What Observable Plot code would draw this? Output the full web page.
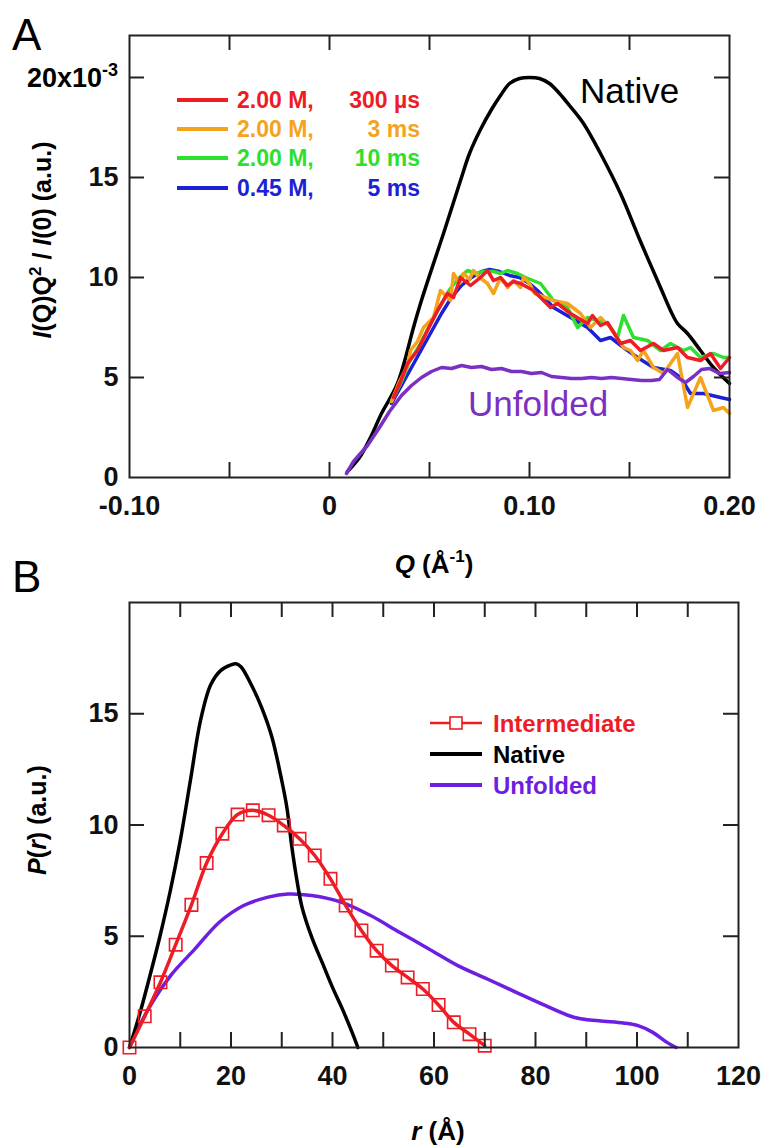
<!DOCTYPE html>
<html><head><meta charset="utf-8">
<script src="https://cdn.jsdelivr.net/npm/d3@7"></script>
<script src="https://cdn.jsdelivr.net/npm/@observablehq/plot@0.6"></script>
<style>
body{margin:0;background:#fff;}
#chart{width:763px;}
svg{display:block;}
</style></head><body><div id="chart"></div>
<script>
// ---------- Panel A data (I(Q)Q^2/I(0), units of 1e-3) ----------
const qNative = [0.009,0.015,0.0205,0.026,0.034,0.042,0.0455,0.054,0.057,0.0655,0.070,0.0755,0.081,0.0855,0.090,0.095,0.100,0.105,0.110,0.115,0.120,0.127,0.1355,0.1455,0.1555,0.1655,0.1705,0.174,0.179,0.1855,0.192,0.200];
const iNative = [0.3,1.0,2.0,3.2,4.7,7.5,8.7,11.3,12.2,14.85,16.2,17.4,18.4,19.1,19.7,19.95,20.0,19.95,19.7,19.2,18.6,17.7,16.2,14.2,11.8,9.5,8.35,7.7,7.2,6.35,5.5,4.7];

const qUnfoldedA = [0.0085,0.012,0.019,0.025,0.030,0.036,0.041,0.046,0.051,0.056,0.061,0.066,0.071,0.076,0.081,0.086,0.091,0.096,0.101,0.106,0.111,0.116,0.121,0.126,0.131,0.136,0.141,0.146,0.151,0.156,0.161,0.165,0.169,0.174,0.178,0.182,0.186,0.190,0.195,0.200];
const iUnfoldedA = [0.2,0.8,1.6,2.5,3.3,4.1,4.6,5.0,5.3,5.5,5.45,5.6,5.5,5.55,5.4,5.45,5.3,5.3,5.2,5.25,5.05,5.0,4.95,4.95,5.0,4.95,5.0,4.95,4.9,4.85,4.85,4.9,5.4,5.0,4.75,5.05,5.4,5.45,5.2,5.25];

const qRed = [0.032,0.0355,0.039,0.044,0.049,0.054,0.059,0.062,0.0655,0.0705,0.0755,0.079,0.082,0.0855,0.089,0.092,0.0955,0.102,0.1105,0.114,0.1205,0.1255,0.129,0.1315,0.1355,0.139,0.1455,0.1505,0.1555,0.162,0.167,0.174,0.179,0.1855,0.1905,0.1955,0.200];
const iRed = [4.0,4.8,5.7,6.35,7.35,8.35,9.2,9.0,10.0,9.6,10.0,10.35,9.85,10.0,9.6,9.8,9.7,9.35,8.5,8.7,8.2,7.9,7.7,8.1,7.6,7.75,6.7,6.85,6.35,6.7,6.35,6.5,6.0,5.85,6.2,5.45,6.0];

const qOrange = [0.031,0.035,0.039,0.0405,0.044,0.047,0.052,0.0555,0.0605,0.062,0.065,0.067,0.070,0.072,0.075,0.079,0.082,0.0855,0.089,0.092,0.0955,0.097,0.100,0.1025,0.112,0.119,0.1255,0.1305,0.1355,0.1405,0.147,0.1505,0.154,0.157,0.162,0.167,0.174,0.179,0.1855,0.192,0.197,0.200];
const iOrange = [3.8,4.8,5.6,6.35,6.8,7.5,8.0,9.35,8.85,10.2,9.7,10.2,9.9,10.35,10.0,9.7,9.2,10.0,9.5,9.85,9.5,10.0,9.7,9.2,8.85,8.7,8.2,7.5,8.0,7.5,6.5,6.35,5.85,6.35,5.5,5.2,6.2,3.5,5.0,3.35,3.5,3.2];

const qGreen = [0.031,0.036,0.040,0.045,0.050,0.055,0.060,0.065,0.069,0.073,0.077,0.082,0.0855,0.089,0.094,0.098,0.1055,0.112,0.119,0.124,0.129,0.134,0.139,0.144,0.147,0.152,0.159,0.1655,0.1705,0.177,0.1805,0.1855,0.192,0.197,0.200];
const iGreen = [3.8,4.8,5.8,6.6,7.6,8.5,9.4,10.0,10.35,10.2,10.3,10.3,10.2,10.35,10.2,10.0,9.7,8.85,8.5,7.5,8.0,7.85,7.7,7.0,8.1,7.0,6.85,6.35,6.7,6.35,6.5,6.0,6.2,6.0,6.0];

const qBlue = [0.031,0.036,0.041,0.046,0.051,0.056,0.061,0.066,0.071,0.076,0.080,0.085,0.090,0.095,0.100,0.104,0.112,0.1205,0.129,0.1355,0.1405,0.147,0.154,0.162,0.1705,0.1755,0.1805,0.187,0.1955,0.200];
const iBlue = [3.7,4.6,5.5,6.4,7.3,8.2,9.0,9.6,10.0,10.3,10.4,10.3,10.1,10.0,9.7,9.35,8.5,8.0,7.5,6.85,7.0,6.5,6.0,5.5,5.35,5.0,4.2,4.2,4.0,3.9];

const legendA = ["2.00 M,", "2.00 M,", "2.00 M,", "0.45 M,"];
const legendATimes = ["300 \u00b5s", "3 ms", "10 ms", "5 ms"];
const xTicksA = [-0.05, 0, 0.05, 0.10, 0.15];
const xLabelsA = [-0.10, 0, 0.10, 0.20];
const yTicksA = [5, 10, 15, 20];
const yLabelsA = [0, 5, 10, 15];

// ---------- Panel B data (P(r)) ----------
const rInter = [0,3.0,6.1,9.1,12.2,15.2,18.3,21.3,24.3,27.4,30.4,33.5,36.5,39.6,42.6,45.7,48.7,51.7,54.8,57.8,60.9,63.9,67.0,70.0];
const pInter = [0,1.4,2.93,4.62,6.41,8.29,9.61,10.47,10.66,10.44,9.98,9.38,8.63,7.58,6.38,5.26,4.35,3.68,3.15,2.63,1.91,1.13,0.6,0.08];

const rNativeB = [0,2,4,6,8,10,12,14,16,18,20,21,22,24,26,28,30,31,32,33,34,36,38,40,42,44,45];
const pNativeB = [0,1.5,3.2,5.0,7.0,9.3,12.0,14.7,16.3,16.95,17.2,17.25,17.1,16.3,15.3,14.0,12.0,10.8,9.0,7.5,6.3,4.9,3.8,2.7,1.7,0.6,0];

const rUnfB = [0,3.35,8.1,12.9,17.7,22.5,27.3,31.2,35.9,41.7,47.5,53.2,59.0,64.7,70.5,76.2,82.0,87.7,92.5,97.3,100.2,103.1,105.9,107.7];
const pUnfB = [0,1.58,3.23,4.43,5.63,6.38,6.76,6.9,6.83,6.53,5.93,5.18,4.43,3.68,3.08,2.48,1.88,1.35,1.2,1.1,0.98,0.68,0.23,0];

const legendB = ["Intermediate", "Native", "Unfolded"];
const xTicksB = [10,20,30,40,50,60,70,80,90,100,110];
const xLabelsB = [0,20,40,60,80,100,120];
const yTicksB = [5,10,15];
const yLabelsB = [0,5,10,15];

// ---------- colours ----------
const cRed = "#ee1c24", cOrange = "#f5a31c", cGreen = "#2ee02e", cBlue = "#1c22d4",
      cPurpleA = "#7a30c2", cPurpleB = "#6c1ee2", cBlack = "#000";
const FONT = "'Liberation Sans', Arial, Helvetica, sans-serif";
const TICK = 15;

const toRows = (xs, ys, kx, ky) => xs.map((x, i) => ({[kx]: x, [ky]: ys[i]}));
const natA = toRows(qNative, iNative, "q", "v");
const unfA = toRows(qUnfoldedA, iUnfoldedA, "q", "v");
const redA = toRows(qRed, iRed, "q", "v");
const orA = toRows(qOrange, iOrange, "q", "v");
const grA = toRows(qGreen, iGreen, "q", "v");
const blA = toRows(qBlue, iBlue, "q", "v");

const labStyle = {tickSize: 0, fontSize: 27, fontWeight: "bold", fill: "#111", label: null};

// inward ticks on all four sides; tick length TICK px converted to data units
function boxTicks(xt, yt, xd, yd, fw, fh) {
  const st = {stroke: "#222", strokeWidth: 2};
  const ly = TICK * (yd[1] - yd[0]) / fh;
  const lx = TICK * (xd[1] - xd[0]) / fw;
  return [
    Plot.ruleX(xt, {x: d => d, y1: yd[0], y2: yd[0] + ly, ...st}),
    Plot.ruleX(xt, {x: d => d, y1: yd[1] - ly, y2: yd[1], ...st}),
    Plot.ruleY(yt, {y: d => d, x1: xd[0], x2: xd[0] + lx, ...st}),
    Plot.ruleY(yt, {y: d => d, x1: xd[1] - lx, x2: xd[1], ...st})
  ];
}

const A = {w: 763, h: 580, ml: 129, mr: 34, mt: 35, mb: 103};
const xDomA = [-0.10, 0.20], yDomA = [0, 22.1];
const plotA = Plot.plot({
  width: A.w, height: A.h,
  marginLeft: A.ml, marginRight: A.mr, marginTop: A.mt, marginBottom: A.mb,
  x: {domain: xDomA},
  y: {domain: yDomA},
  style: {fontFamily: FONT, background: "white", overflow: "visible"},
  marks: [
    Plot.line(natA, {x: "q", y: "v", stroke: cBlack, strokeWidth: 3.5, curve: "catmull-rom"}),
    Plot.line(blA, {x: "q", y: "v", stroke: cBlue, strokeWidth: 3.5}),
    Plot.line(grA, {x: "q", y: "v", stroke: cGreen, strokeWidth: 3.5}),
    Plot.line(orA, {x: "q", y: "v", stroke: cOrange, strokeWidth: 3.5}),
    Plot.line(redA, {x: "q", y: "v", stroke: cRed, strokeWidth: 3.5}),
    Plot.line(unfA, {x: "q", y: "v", stroke: cPurpleA, strokeWidth: 3.5}),
    ...boxTicks(xTicksA, yTicksA, xDomA, yDomA, A.w - A.ml - A.mr, A.h - A.mt - A.mb),
    Plot.frame({stroke: "#222", strokeWidth: 2}),
    Plot.axisX(xLabelsA, {anchor: "bottom", ...labStyle, tickPadding: 18,
      tickFormat: d => d === 0 ? "0" : d.toFixed(2)}),
    Plot.axisY(yLabelsA, {anchor: "left", ...labStyle, tickPadding: 11,
      tickFormat: d => String(d)})
  ]
});

const interB = toRows(rInter, pInter, "r", "p");
const natB = toRows(rNativeB, pNativeB, "r", "p");
const unfB = toRows(rUnfB, pUnfB, "r", "p");

const B = {w: 763, h: 568, ml: 129, mr: 25, mt: 22, mb: 101};
const xDomB = [0, 120], yDomB = [0, 20];
const plotB = Plot.plot({
  width: B.w, height: B.h,
  marginLeft: B.ml, marginRight: B.mr, marginTop: B.mt, marginBottom: B.mb,
  x: {domain: xDomB},
  y: {domain: yDomB},
  style: {fontFamily: FONT, background: "white", overflow: "visible"},
  marks: [
    Plot.line(unfB, {x: "r", y: "p", stroke: cPurpleB, strokeWidth: 3.5, curve: "catmull-rom"}),
    Plot.line(natB, {x: "r", y: "p", stroke: cBlack, strokeWidth: 3.5, curve: "catmull-rom"}),
    Plot.line(interB, {x: "r", y: "p", stroke: cRed, strokeWidth: 3.5, curve: "catmull-rom"}),
    Plot.dot(interB, {x: "r", y: "p", symbol: "square", r: 7, stroke: cRed, fill: "none", strokeWidth: 1.6}),
    ...boxTicks(xTicksB, yTicksB, xDomB, yDomB, B.w - B.ml - B.mr, B.h - B.mt - B.mb),
    Plot.frame({stroke: "#222", strokeWidth: 2}),
    Plot.axisX(xLabelsB, {anchor: "bottom", ...labStyle, tickPadding: 18, tickFormat: d => String(d)}),
    Plot.axisY(yLabelsB, {anchor: "left", ...labStyle, tickPadding: 11, tickFormat: d => String(d)})
  ]
});

const host = document.getElementById("chart");
host.appendChild(plotA);
host.appendChild(plotB);

// ---------- decorations: panel A ----------
const sA = d3.select(plotA);
const yA = plotA.scale("y");
function txt(sel, x, y, opts = {}) {
  return sel.append("text").attr("x", x).attr("y", y)
    .attr("font-family", FONT)
    .attr("font-size", opts.size || 24)
    .attr("font-weight", opts.weight || "bold")
    .attr("fill", opts.fill || "#000")
    .attr("text-anchor", opts.anchor || "start")
    .attr("dominant-baseline", opts.baseline || "auto");
}
txt(sA, 12, 50, {size: 44, weight: "normal"}).text("A");

// "20x10^-3" tick label
const t20 = txt(sA, 118, yA.apply(20) + 10, {size: 27, anchor: "end"});
t20.append("tspan").text("20x10");
t20.append("tspan").attr("dy", -11).attr("font-size", 18).text("-3");

// y title A
const ytA = sA.append("text").attr("transform", "translate(51,240) rotate(-90)")
  .attr("font-family", FONT).attr("font-size", 25).attr("font-weight", "bold").attr("text-anchor", "middle");
ytA.append("tspan").attr("font-style", "italic").text("I");
ytA.append("tspan").text("(Q)Q");
ytA.append("tspan").attr("dy", -10).attr("font-size", 17).text("2");
ytA.append("tspan").attr("dy", 10).text(" / ");
ytA.append("tspan").attr("font-style", "italic").text("I");
ytA.append("tspan").text("(0) (a.u.)");

// x title A
const xtA = txt(sA, 434, 573, {size: 26, anchor: "middle"});
xtA.append("tspan").attr("font-style", "italic").text("Q");
xtA.append("tspan").text(" (\u00c5");
xtA.append("tspan").attr("dy", -11).attr("font-size", 17).text("-1");
xtA.append("tspan").attr("dy", 11).text(")");

// in-plot labels
txt(sA, 580, 103, {size: 35, weight: "normal"}).text("Native");
txt(sA, 468, 416, {size: 35, weight: "normal", fill: cPurpleA}).text("Unfolded");

// legend A
const legColsA = [cRed, cOrange, cGreen, cBlue];
const legY = [100, 129, 158, 188];
legendA.forEach((lab, i) => {
  sA.append("line").attr("x1", 177).attr("x2", 228).attr("y1", legY[i]).attr("y2", legY[i])
    .attr("stroke", legColsA[i]).attr("stroke-width", 4);
  txt(sA, 237, legY[i], {size: 23, fill: legColsA[i], baseline: "central"}).text(lab);
  txt(sA, 420, legY[i], {size: 23, fill: legColsA[i], baseline: "central", anchor: "end"}).text(legendATimes[i]);
});

// ---------- decorations: panel B ----------
const sB = d3.select(plotB);
txt(sB, 12, 12, {size: 44, weight: "normal"}).text("B");

const ytB = sB.append("text").attr("transform", "translate(46,240) rotate(-90)")
  .attr("font-family", FONT).attr("font-size", 25).attr("font-weight", "bold").attr("text-anchor", "middle");
ytB.append("tspan").attr("font-style", "italic").text("P");
ytB.append("tspan").text("(");
ytB.append("tspan").attr("font-style", "italic").text("r");
ytB.append("tspan").text(") (a.u.)");

const xtB = txt(sB, 438, 560, {size: 26, anchor: "middle"});
xtB.append("tspan").attr("font-style", "italic").text("r");
xtB.append("tspan").text(" (\u00c5)");

const legColsB = [cRed, cBlack, cPurpleB];
const legYB = [143, 174, 205];
legendB.forEach((lab, i) => {
  sB.append("line").attr("x1", 430).attr("x2", 482).attr("y1", legYB[i]).attr("y2", legYB[i])
    .attr("stroke", legColsB[i]).attr("stroke-width", i === 0 ? 2.5 : 4);
  if (i === 0) {
    sB.append("rect").attr("x", 450).attr("y", legYB[i] - 6).attr("width", 12).attr("height", 12)
      .attr("fill", "white").attr("stroke", cRed).attr("stroke-width", 1.6);
  }
  txt(sB, 493, legYB[i], {size: 24, fill: legColsB[i], baseline: "central"}).text(lab);
});
</script></body></html>
